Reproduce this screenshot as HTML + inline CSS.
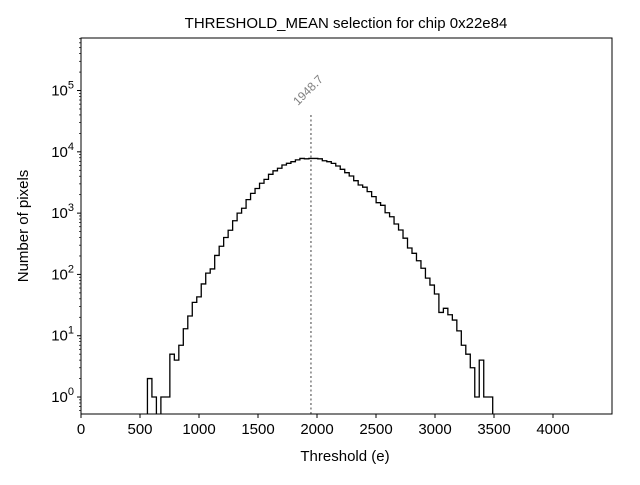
<!DOCTYPE html>
<html><head><meta charset="utf-8"><style>
body{margin:0;background:#fff;}
svg text{font-family:"Liberation Sans","DejaVu Sans",sans-serif;}
</style></head><body>
<svg id="chart" width="640" height="480" viewBox="0 0 640 480" xmlns="http://www.w3.org/2000/svg">
<rect width="640" height="480" fill="#fff"/>
<defs><clipPath id="clip"><rect x="81" y="38" width="531" height="376"/></clipPath></defs>
<text x="346" y="28" font-size="15" text-anchor="middle">THRESHOLD_MEAN selection for chip 0x22e84</text>
<g id="plot"></g>
<text x="345" y="461" font-size="15" text-anchor="middle">Threshold (e)</text>
<text transform="translate(28,226) rotate(-90)" font-size="15" text-anchor="middle">Number of pixels</text>
</svg>
<script>
const binStart = 563;
const binWidth = 38;
const counts = [2,1,0,1,1,5,4,7,13,21,35,43,70,105,123,204,288,400,525,750,1000,1200,1660,2100,2520,3070,3550,4300,4900,5400,6100,6500,6900,7400,7800,
7700,7800,7800,7700,
7160,6900,6480,5870,5190,4570,4030,3380,2880,2650,2240,1860,1480,1340,1015,873,665,530,390,270,221,167,126,87,67,48,24,28,22,18,12,7,5,3,1,4,1,1];
const meanValue = 1948.7;
const xTicks = [0,500,1000,1500,2000,2500,3000,3500,4000];
const yTickExps = [0,1,2,3,4,5];

const X0=81,X1=612,Y0=38,Y1=414;
const xmin=0,xmax=4500, lmin=-0.277, lmax=5.857;
const sx=v=>X0+(v-xmin)/(xmax-xmin)*(X1-X0);
const sy=v=>v<=0?Y1+50:Y1-(Math.log10(v)-lmin)/(lmax-lmin)*(Y1-Y0);
const NS="http://www.w3.org/2000/svg";
const g=document.getElementById('plot');
function mk(t,a,p){const e=document.createElementNS(NS,t);for(const k in a)e.setAttribute(k,a[k]);(p||g).appendChild(e);return e;}

// histogram step
let d=`M${sx(binStart)},${Y1+50}`;
counts.forEach((c,i)=>{const xa=sx(binStart+i*binWidth),xb=sx(binStart+(i+1)*binWidth);d+=` L${xa},${sy(c)} L${xb},${sy(c)}`;});
d+=` L${sx(binStart+counts.length*binWidth)},${Y1+50}`;
const hist=mk('path',{d:d,fill:'none',stroke:'#000','stroke-width':1.3,'clip-path':'url(#clip)'});



// mean line
const mx=sx(meanValue);
const ml=mk('line',{x1:mx,x2:mx,y1:Y1,y2:113,stroke:'#808080','stroke-width':1.5,'stroke-dasharray':'2,2.5'});


const mt=mk('text',{transform:`translate(${mx-13},${106}) rotate(-45)`,'font-size':12,fill:'#808080'});
mt.textContent=meanValue.toFixed(1);



// frame
const fr=mk('rect',{x:X0,y:Y0,width:X1-X0,height:Y1-Y0,fill:'none',stroke:'#000','stroke-width':1});



// x ticks
xTicks.forEach(v=>{const x=sx(v);mk('line',{x1:x,x2:x,y1:Y1,y2:Y1+4,stroke:'#000'});
const t=mk('text',{x:x,y:Y1+20,'font-size':15,'text-anchor':'middle'});t.textContent=v;

});

// y ticks
yTickExps.forEach(e=>{const y=sy(Math.pow(10,e));mk('line',{x1:X0-4,x2:X0,y1:y,y2:y,stroke:'#000'});
const t=mk('text',{x:X0-7,y:y+5,'font-size':15,'text-anchor':'end'});
t.innerHTML=`10<tspan dy="-7" font-size="11">${e}</tspan>`;

});
for(let e=-1;e<=5;e++)for(let m=2;m<=9;m++){const v=m*Math.pow(10,e);const l=Math.log10(v);if(l<lmin||l>lmax)continue;const y=sy(v);mk('line',{x1:X0-2,x2:X0,y1:y,y2:y,stroke:'#000','stroke-width':0.7});}
</script>
</body></html>
